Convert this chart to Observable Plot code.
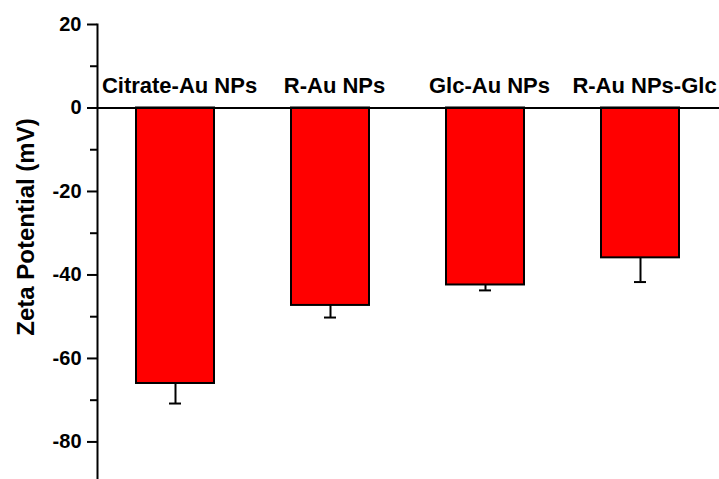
<!DOCTYPE html>
<html>
<head>
<meta charset="utf-8">
<script src="https://cdn.jsdelivr.net/npm/d3@7"></script>
<script src="https://cdn.jsdelivr.net/npm/@observablehq/plot@0.6"></script>
<style>
  html, body { margin: 0; padding: 0; background: #fff; }
</style>
</head>
<body>
<div id="chart"></div>
<script>
const categories = ["Citrate-Au NPs", "R-Au NPs", "Glc-Au NPs", "R-Au NPs-Glc"];
const values = [-66.0, -47.3, -42.4, -35.9];
const errorEnds = [-70.8, -50.2, -43.7, -41.7];
const majorTicks = [20, 0, -20, -40, -60, -80];
const minorTicks = [10, -10, -30, -50, -70];
const yLabel = "Zeta Potential (mV)";

const data = categories.map((c, i) => ({cat: c, value: values[i], err: errorEnds[i]}));

const chart = Plot.plot({
  width: 719,
  height: 479,
  marginLeft: 97,
  marginRight: 2,
  marginTop: 24,
  marginBottom: 0,
  style: {fontFamily: "'Liberation Sans', Arial, sans-serif", fontWeight: "bold", color: "#000", background: "#fff"},
  x: {domain: categories, paddingInner: 0.5, paddingOuter: 0.25, axis: null},
  y: {domain: [-89, 20], axis: null},
  marks: [
    Plot.barY(data, {x: "cat", y: "value", fill: "#ff0000", stroke: "#000", strokeWidth: 2}),
    Plot.ruleX(data, {x: "cat", y1: "value", y2: "err", stroke: "#000", strokeWidth: 2}),
    Plot.tickY(data, {x: "cat", y: "err", stroke: "#000", strokeWidth: 2, insetLeft: 33, insetRight: 33}),
    Plot.ruleY([0], {stroke: "#000", strokeWidth: 2, insetRight: -2}),
    Plot.frame({anchor: "left", stroke: "#000", strokeWidth: 2}),
    Plot.axisY({ticks: majorTicks, tickSize: 10, tickPadding: 6, fontSize: 20, strokeWidth: 2, tickFormat: d => String(d), label: null}),
    Plot.axisY({ticks: minorTicks, tickSize: 7, strokeWidth: 2, tickFormat: () => "", label: null}),
    Plot.text(data, {x: "cat", y: 0, text: "cat", dy: -22, dx: 4, fontSize: 22, fontWeight: "bold", fill: "#000"}),
    Plot.text([yLabel], {frameAnchor: "left", textAnchor: "middle", rotate: -90, dx: -71, dy: -25, fontSize: 24, fontWeight: "bold", fill: "#000"})
  ]
});
document.getElementById("chart").appendChild(chart);
</script>
</body>
</html>
